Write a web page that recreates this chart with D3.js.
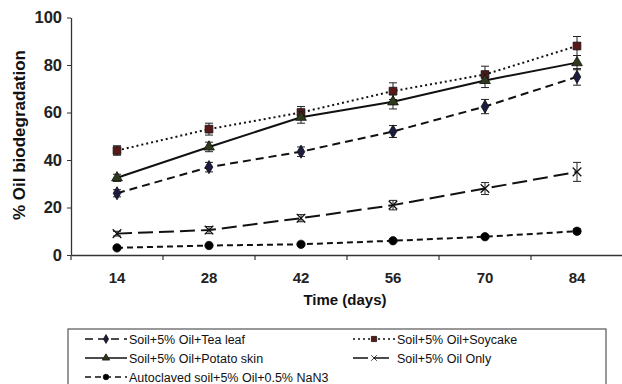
<!DOCTYPE html>
<html><head><meta charset="utf-8">
<script src="https://cdn.jsdelivr.net/npm/d3@7"></script>
<style>body{margin:0;background:#fff;}svg{display:block;font-family:"Liberation Sans",Arial,sans-serif;}</style>
</head><body>
<svg id="c" width="622" height="384"></svg>
<script>
const days = ["14","28","42","56","70","84"];
const yTicks = [0,20,40,60,80,100];
const teaLeaf = [26,37,43.5,52,62.5,75];
const teaLeafErr = [1.5,2,2,2.5,3,3.5];
const soycake = [44,53,60,69,76,88];
const soycakeErr = [2,2.5,2.5,3.5,3.5,4];
const potato = [32.5,45.5,58,64.5,73.5,81];
const potatoErr = [1.5,2,2.5,3,3,3];
const oilOnly = [9,10.5,15.5,21,28,35];
const oilOnlyErr = [1,1.5,1.5,2,2.5,4];
const autoclaved = [3,4,4.5,6,7.7,10];
const autoclavedErr = [0.5,0.5,0.5,0.5,0.7,1];
const seriesNames = ["Soil+5% Oil+Tea leaf","Soil+5% Oil+Soycake","Soil+5% Oil+Potato skin","Soil+5% Oil Only","Autoclaved soil+5% Oil+0.5% NaN3"];

const series = [
  {name:seriesNames[0], v:teaLeaf, e:teaLeafErr, dash:"8,5", sym:d3.symbolDiamond, size:50, fill:"#1c1c40"},
  {name:seriesNames[1], v:soycake, e:soycakeErr, dash:"2,3", sym:d3.symbolSquare, size:60, fill:"#5a1818"},
  {name:seriesNames[2], v:potato, e:potatoErr, dash:null, sym:d3.symbolTriangle, size:50, fill:"#2e3a1c"},
  {name:seriesNames[3], v:oilOnly, e:oilOnlyErr, dash:"15,6", sym:d3.symbolX, size:50, fill:"none"},
  {name:seriesNames[4], v:autoclaved, e:autoclavedErr, dash:"6,4", sym:d3.symbolCircle, size:55, fill:"#000"}
];

const svg = d3.select("#c");
const x = d3.scaleBand().domain(days).range([71,623]);
const y = d3.scaleLinear().domain([0,100]).range([255,17.5]);

// Y axis
const ya = svg.append("g").attr("transform","translate(71,0)")
  .call(d3.axisLeft(y).tickValues(yTicks).tickSize(4).tickSizeOuter(0));
ya.select(".domain").attr("stroke","#333").attr("stroke-width",1.3);
ya.selectAll(".tick line").attr("stroke","#333");
ya.selectAll("text").attr("font-size",16.5).attr("font-weight","bold").attr("fill","#222").attr("dx",-2);

// X axis
const xa = svg.append("g").attr("transform","translate(0,255)")
  .call(d3.axisBottom(x).tickSize(0).tickSizeOuter(0));
xa.select(".domain").attr("stroke","#333").attr("stroke-width",1.3);
xa.selectAll("text").attr("font-size",15).attr("font-weight","bold").attr("fill","#222").attr("dy","25px");
// category boundary ticks
const bounds = days.map(d=>x(d));
svg.append("g").selectAll("line").data(bounds).join("line")
  .attr("x1",d=>d).attr("x2",d=>d).attr("y1",255).attr("y2",260)
  .attr("stroke","#333").attr("stroke-width",1.2);

// Axis titles
svg.append("text").attr("x",345).attr("y",305).attr("text-anchor","middle")
  .attr("font-size",15).attr("font-weight","bold").attr("fill","#111").text("Time (days)");
svg.append("text").attr("transform","translate(25,135) rotate(-90)").attr("text-anchor","middle")
  .attr("font-size",17).attr("font-weight","bold").attr("fill","#111").text("% Oil biodegradation");

const cx = d => x(d)+x.bandwidth()/2;
const line = d3.line().x((v,i)=>cx(days[i])).y(v=>y(v));

series.forEach(s=>{
  const g = svg.append("g");
  g.append("path").datum(s.v).attr("d",line).attr("fill","none").attr("stroke","#111")
    .attr("stroke-width",2).attr("stroke-dasharray",s.dash);
  // error bars
  s.v.forEach((v,i)=>{
    const X = cx(days[i]);
    const t = y(v+s.e[i]), b = y(v-s.e[i]);
    g.append("line").attr("x1",X).attr("x2",X).attr("y1",t).attr("y2",b).attr("stroke","#222").attr("stroke-width",1);
    [t,b].forEach(yy=>g.append("line").attr("x1",X-4).attr("x2",X+4).attr("y1",yy).attr("y2",yy).attr("stroke","#222").attr("stroke-width",1));
  });
  g.selectAll("path.m").data(s.v).join("path").attr("class","m")
    .attr("transform",(v,i)=>`translate(${cx(days[i])},${y(v)})`)
    .attr("d",d3.symbol(s.sym,s.size))
    .attr("fill",s.fill).attr("stroke","#111").attr("stroke-width",s.fill==="none"?1.3:0.8);
});

// Legend
svg.append("rect").attr("x",68).attr("y",329).attr("width",538).attr("height",70)
  .attr("fill","none").attr("stroke","#555").attr("stroke-width",1.2);
const legPos = [[85,339],[353,339],[85,358],[353,358],[85,377]];
series.forEach((s,i)=>{
  const [lx,ly] = legPos[i];
  const g = svg.append("g");
  g.append("line").attr("x1",lx).attr("x2",lx+42).attr("y1",ly).attr("y2",ly)
    .attr("stroke","#111").attr("stroke-width",1.6).attr("stroke-dasharray",s.dash);
  g.append("path").attr("transform",`translate(${lx+21},${ly})`).attr("d",d3.symbol(s.sym,s.size*0.45))
    .attr("fill",s.fill).attr("stroke","#111").attr("stroke-width",0.8);
  g.append("text").attr("x",lx+44).attr("y",ly+4.5).attr("font-size",12.5).attr("fill","#111").text(s.name);
});
</script>
</body></html>
